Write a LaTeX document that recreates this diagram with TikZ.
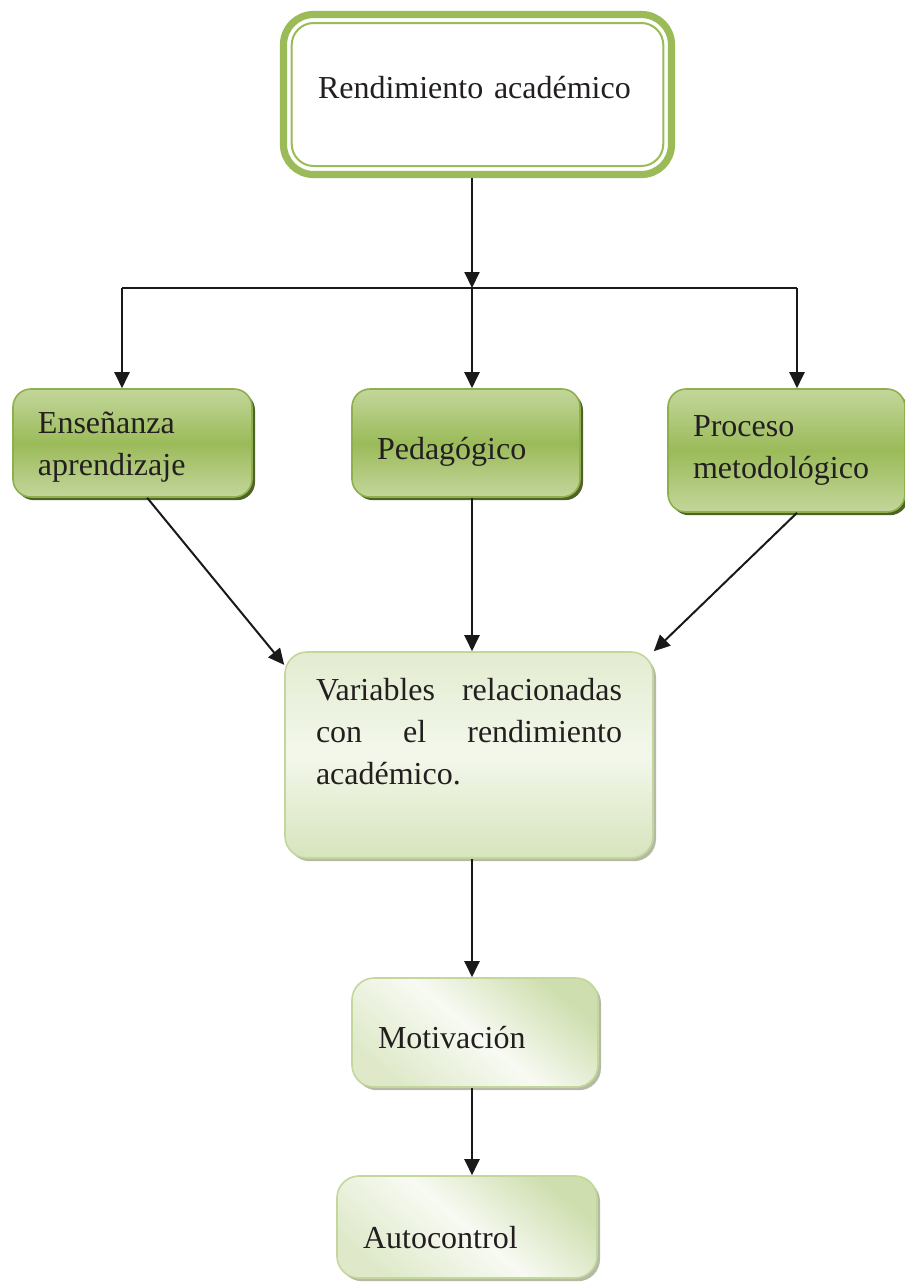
\documentclass[tikz,border=0pt]{standalone}
\usepackage{fontspec}
\setmainfont{Liberation Serif}
\usetikzlibrary{arrows.meta,shadows}

\definecolor{framegreen}{HTML}{9BBB59}
\definecolor{rowborder}{HTML}{8DB04C}
\definecolor{rowlight}{HTML}{C3D69B}
\definecolor{rowdark}{HTML}{4F6228}
\definecolor{paleborder}{HTML}{C3D69B}
\definecolor{palegreen}{HTML}{D7E4BD}
\definecolor{palewhite}{HTML}{F3F7EB}
\definecolor{paleshadow}{HTML}{A3A98F}
\definecolor{inktext}{HTML}{231F20}

\begin{document}
\begin{tikzpicture}[x=0.5pt, y=-0.5pt,
	font=\fontsize{16}{21}\selectfont, text=inktext,
	arr/.style={-{Triangle[length=8pt,width=7.5pt]}, line width=1pt, draw=black!90},
	topbox/.style={rectangle, draw=framegreen, line width=3.6pt, rounded corners=15pt, fill=white,
		minimum width=194pt, minimum height=80pt, text depth=7pt,
		inner xsep=0pt, text width=159.5pt, align=left},
	topframe/.style={rectangle, draw=framegreen, line width=1pt, rounded corners=11pt,
		minimum width=185.8pt, minimum height=71.5pt},
	rowbox/.style={rectangle, draw=rowborder, line width=0.8pt, rounded corners=9pt,
		top color=rowlight, bottom color=rowlight, middle color=framegreen,
		drop shadow={shadow xshift=1.5pt, shadow yshift=-1.6pt, fill=rowdark, opacity=1},
		align=left, inner xsep=12.5pt, minimum height=54pt},
	palebox/.style={rectangle, draw=paleborder, line width=0.8pt, rounded corners=11pt,
		top color=palegreen!70!white, bottom color=palegreen, middle color=palewhite,
		drop shadow={shadow xshift=1.5pt, shadow yshift=-1.6pt, fill=paleshadow, opacity=.8},
		align=left, inner xsep=13pt},
	diagbox/.style={palebox, top color=palegreen!85!framegreen, bottom color=palegreen!80!white,
		middle color=palewhite!60!white, shading angle=-40}
	]
	\useasboundingbox (0,0) rectangle (905,1282);

	\node[topbox] (top) at (477.5,94.5) {\mbox{Rendimiento académico}};
	\node[topframe] (topin) at (top.center) {};

	\coordinate (split) at (472,288);
	\coordinate (lsplit) at (122,288);
	\coordinate (rsplit) at (797,288);

	\node[rowbox, minimum width=119.5pt, text width=94.5pt, text height=11pt, text depth=21pt] (ensen) at (132.5,443)
		{Enseñanza\\aprendizaje};
	\node[rowbox, minimum width=114pt, text width=89pt, text height=20pt, text depth=3.5pt] (pedag) at (466,443)
		{Pedagógico};
	\node[rowbox, minimum width=118.5pt, minimum height=61.5pt, text width=93.5pt, text height=11pt, text depth=25.5pt]
		(proces) at (786.5,450.5) {Proceso\\metodológico};

	\node[palebox, minimum width=184pt, minimum height=103pt, inner xsep=15.5pt, text width=153pt,
		text height=11pt, text depth=66pt] (vars) at (469,755)
		{Variables\hfill relacionadas\\con\hfill el\hfill rendimiento\\académico.};

	\node[diagbox, minimum width=123pt, minimum height=54.5pt, text width=97pt, text height=15.5pt, text depth=0pt]
		(motiv) at (475,1032.5) {Motivación};
	\node[diagbox, minimum width=130pt, minimum height=51pt, text width=104pt, text height=21pt, text depth=0pt]
		(auto) at (467,1227) {Autocontrol};

	\draw[arr] (top.south -| split) -- (split);
	\draw[line width=1pt, draw=black!90] (lsplit) -- (rsplit);
	\draw[arr] (lsplit) -- (ensen.north -| lsplit);
	\draw[arr] (split) -- (pedag.north -| split);
	\draw[arr] (rsplit) -- (proces.north -| rsplit);

	\draw[arr] (ensen.-75) -- (vars.154);
	\draw[arr] (pedag.south -| split) -- (vars.north -| split);
	\draw[arr] (proces.south -| rsplit) -- (vars.north east);

	\draw[arr] (vars.south -| split) -- (motiv.north -| split);
	\draw[arr] (motiv.south -| split) -- (auto.north -| split);
\end{tikzpicture}
\end{document}
